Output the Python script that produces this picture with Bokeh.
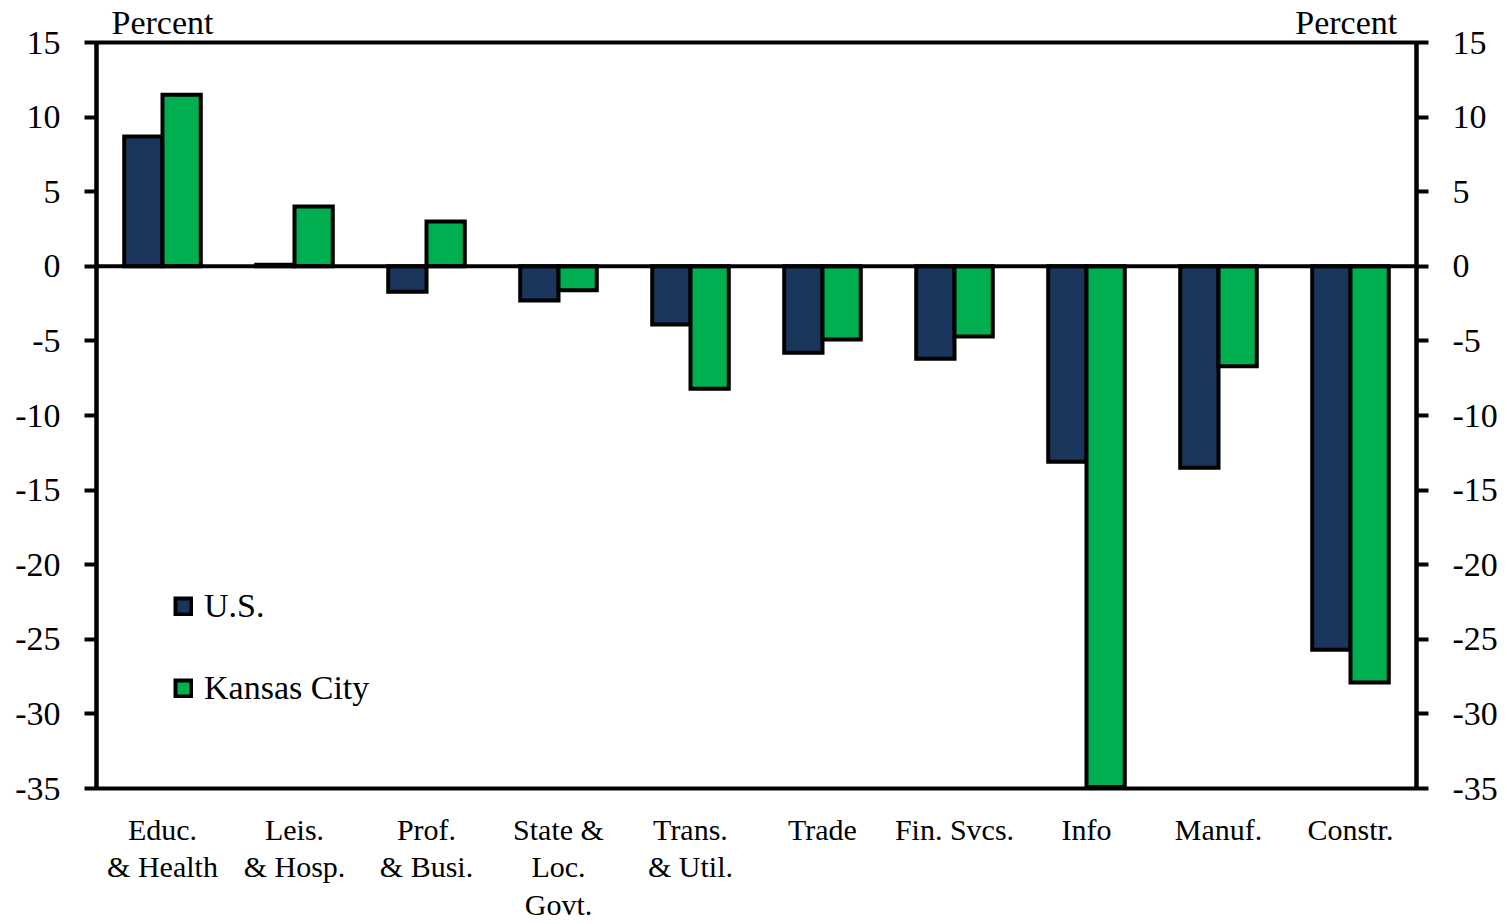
from bokeh.plotting import figure
from bokeh.models import (ColumnDataSource, FactorRange, Range1d, LinearAxis, CategoricalAxis, Span,
                          Legend, LegendItem, FixedTicker)
from bokeh.transform import dodge
from bokeh.embed import file_html
from bokeh.resources import INLINE

categories = ["Educ.\n& Health", "Leis.\n& Hosp.", "Prof.\n& Busi.", "State &\nLoc.\nGovt.",
              "Trans.\n& Util.", "Trade", "Fin. Svcs.", "Info", "Manuf.", "Constr."]
us = [8.7, 0.1, -1.7, -2.3, -3.9, -5.8, -6.2, -13.1, -13.5, -25.7]
kansas_city = [11.5, 4.0, 3.0, -1.6, -8.2, -4.9, -4.7, -34.9, -6.7, -27.9]
y_ticks = [15, 10, 5, 0, -5, -10, -15, -20, -25, -30, -35]
y_tick_labels = {t: str(t) for t in y_ticks}
unit_labels = ["Percent", " Percent"]   # left and right axis unit captions

US_COLOR = "#1B365D"
KC_COLOR = "#00B050"
FONT = "Liberation Serif"

src = ColumnDataSource(dict(cat=categories, us=us, kc=kansas_city))

p = figure(width=1507, height=924, output_backend="svg", toolbar_location=None,
           x_range=FactorRange(*categories, range_padding=0),
           y_range=Range1d(-35, 15),
           min_border_left=96, min_border_right=91, min_border_top=42, min_border_bottom=136,
           y_axis_location=None)
p.grid.visible = False
p.outline_line_color = "black"
p.outline_line_width = 4
p.background_fill_color = "white"
p.border_fill_color = "white"

r_us = p.vbar(x=dodge("cat", -0.145, range=p.x_range), top="us", bottom=0, width=0.29,
              source=src, fill_color=US_COLOR, line_color="black", line_width=4, line_join="miter")
r_kc = p.vbar(x=dodge("cat", 0.145, range=p.x_range), top="kc", bottom=0, width=0.29,
              source=src, fill_color=KC_COLOR, line_color="black", line_width=4, line_join="miter")

p.add_layout(Span(location=0, dimension="width", line_color="black", line_width=4))

for side in ("left", "right"):
    ax = LinearAxis(ticker=FixedTicker(ticks=y_ticks), major_label_overrides=y_tick_labels)
    ax.axis_line_color = "black"
    ax.axis_line_width = 4
    ax.major_tick_line_color = "black"
    ax.major_tick_line_width = 4
    ax.major_tick_out = 12
    ax.major_tick_in = 0
    ax.minor_tick_line_color = None
    ax.major_label_standoff = 24
    ax.major_label_text_font = FONT
    ax.major_label_text_font_size = "34px"
    ax.major_label_text_color = "black"
    p.add_layout(ax, side)

xa = p.xaxis[0]
xa.axis_line_color = None
xa.major_tick_line_color = None
xa.minor_tick_line_color = None
xa.major_label_standoff = 18
xa.major_label_text_font = FONT
xa.major_label_text_font_size = "30px"
xa.major_label_text_color = "black"
xa.major_label_text_line_height = 1.15

# "Percent" captions above the left and right value axes
p.extra_x_ranges = {"units": FactorRange(*unit_labels, factor_padding=0.8,
                                         range_padding=-0.4, range_padding_units="absolute")}
top_ax = CategoricalAxis(x_range_name="units")
top_ax.axis_line_color = None
top_ax.major_tick_line_color = None
top_ax.minor_tick_line_color = None
top_ax.major_label_standoff = -4
top_ax.major_label_text_font = FONT
top_ax.major_label_text_font_size = "34px"
top_ax.major_label_text_color = "black"
p.add_layout(top_ax, "above")

legend = Legend(items=[LegendItem(label="U.S.", renderers=[r_us]),
                       LegendItem(label="Kansas City", renderers=[r_kc])],
                location=(77, 81), orientation="vertical")
legend.background_fill_alpha = 0
legend.border_line_color = None
legend.padding = 0
legend.margin = 0
legend.spacing = 44
legend.glyph_width = 20
legend.glyph_height = 20
legend.label_standoff = 11
legend.label_text_font = FONT
legend.label_text_font_size = "34px"
legend.label_text_color = "black"
p.add_layout(legend, "center")

open("out.html", "w").write(file_html(p, INLINE))
